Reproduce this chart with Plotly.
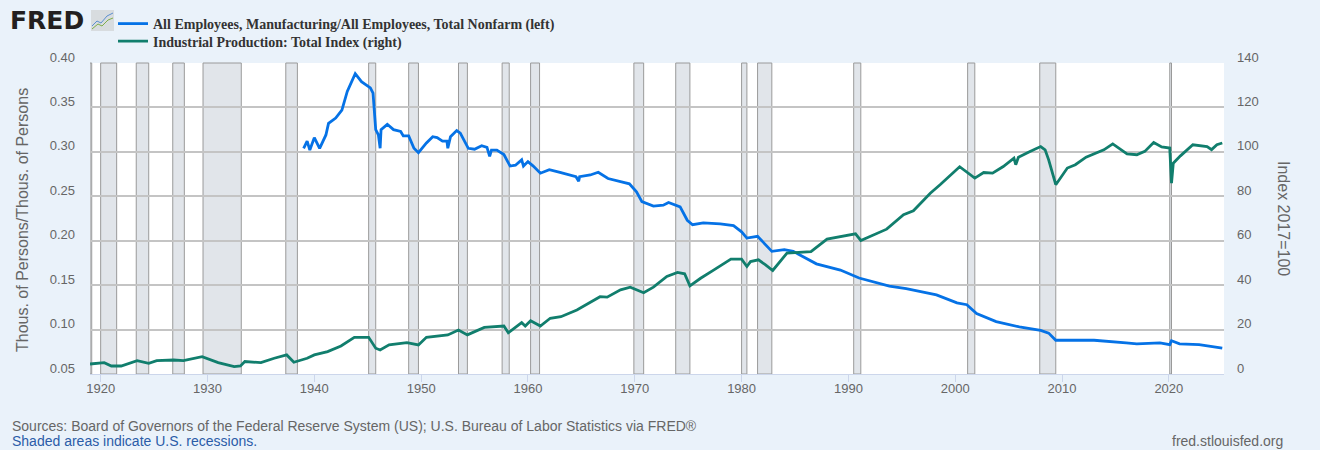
import plotly.graph_objects as go

# manufacturing share of nonfarm employment (left axis)
mfg_dates = [
    "1939-01", "1939-05", "1939-08", "1940-01", "1940-07", "1941-02", "1941-05",
    "1942-01", "1942-08", "1943-02", "1943-11", "1944-06", "1945-04", "1945-07",
    "1945-10", "1946-01", "1946-03", "1946-04", "1946-11", "1947-06", "1948-02",
    "1948-05", "1948-11", "1949-05", "1949-10", "1950-07", "1951-02", "1951-07",
    "1952-01", "1952-06", "1952-07", "1952-10", "1953-05", "1953-09", "1954-06",
    "1955-01", "1955-09", "1956-03", "1956-06", "1956-08", "1957-02", "1957-10",
    "1958-05", "1958-11", "1959-06", "1959-08", "1960-01", "1960-07", "1961-03",
    "1962-01", "1963-01", "1964-07", "1964-10", "1964-11", "1965-11", "1966-08",
    "1967-07", "1969-07", "1970-03", "1970-09", "1971-10", "1972-09", "1973-03",
    "1974-04", "1974-12", "1975-06", "1976-06", "1978-01", "1979-04", "1980-01",
    "1980-07", "1981-07", "1982-11", "1984-01", "1984-11", "1987-01", "1989-04",
    "1991-01", "1993-11", "1995-06", "1998-04", "2000-03", "2001-02", "2002-01",
    "2003-11", "2006-01", "2008-01", "2008-10", "2009-06", "2013-01", "2016-01",
    "2017-01", "2019-03", "2020-02", "2020-04", "2021-01", "2022-11", "2025-01",
]
mfg_share = [
    0.304, 0.312, 0.302, 0.316, 0.304, 0.319, 0.332,
    0.338, 0.347, 0.368, 0.388, 0.379, 0.372, 0.366,
    0.325, 0.319, 0.304, 0.325, 0.331, 0.325, 0.323,
    0.318, 0.318, 0.304, 0.299, 0.310, 0.317, 0.316,
    0.312, 0.312, 0.304, 0.317, 0.324, 0.321, 0.304,
    0.303, 0.307, 0.305, 0.295, 0.302, 0.302, 0.297,
    0.284, 0.285, 0.291, 0.284, 0.289, 0.284, 0.276,
    0.280, 0.277, 0.272, 0.267, 0.272, 0.274, 0.277,
    0.270, 0.264, 0.255, 0.244, 0.239, 0.240, 0.243,
    0.238, 0.223, 0.218, 0.220, 0.219, 0.217, 0.210,
    0.203, 0.205, 0.188, 0.190, 0.188, 0.174, 0.167,
    0.158, 0.149, 0.146, 0.139, 0.130, 0.128, 0.118,
    0.109, 0.103, 0.099, 0.096, 0.088, 0.088, 0.085,
    0.084, 0.085, 0.083, 0.0875, 0.084, 0.083, 0.079,
]

# industrial production index, 2017=100 (right axis)
ip_dates = [
    "1919-01", "1920-05", "1921-01", "1921-12", "1923-06", "1924-07", "1925-04",
    "1926-11", "1927-10", "1929-07", "1931-01", "1932-07", "1933-02", "1933-07",
    "1935-01", "1936-04", "1937-06", "1938-02", "1939-05", "1940-01", "1941-04",
    "1942-07", "1943-10", "1945-02", "1945-10", "1946-03", "1947-01", "1948-09",
    "1949-10", "1950-07", "1952-07", "1953-07", "1954-05", "1955-12", "1957-10",
    "1958-03", "1959-06", "1959-10", "1960-04", "1961-03", "1962-02", "1963-02",
    "1964-08", "1965-12", "1966-10", "1967-06", "1968-09", "1969-08", "1970-11",
    "1971-10", "1973-01", "1974-01", "1974-09", "1975-03", "1976-03", "1977-06",
    "1979-01", "1980-01", "1980-07", "1980-11", "1981-08", "1982-04", "1982-12",
    "1984-04", "1985-03", "1986-07", "1988-01", "1989-04", "1990-09", "1991-03",
    "1992-06", "1993-08", "1995-03", "1996-02", "1997-09", "1998-08", "2000-06",
    "2001-11", "2002-09", "2003-07", "2004-07", "2005-07", "2005-09", "2005-12",
    "2007-01", "2008-01", "2008-06", "2008-10", "2009-06", "2010-07", "2011-04",
    "2012-04", "2013-12", "2014-10", "2016-02", "2017-01", "2017-10", "2018-08",
    "2019-05", "2020-02", "2020-04", "2020-06", "2021-02", "2021-09", "2022-04",
    "2023-08", "2024-01", "2024-07", "2025-01",
]
ip_index = [
    4.5, 5.1, 3.6, 3.6, 6.0, 4.8, 6.0,
    6.3, 6.0, 7.8, 5.1, 3.3, 3.6, 5.6,
    5.1, 7.1, 8.6, 5.3, 7.1, 8.6, 10.1,
    12.6, 16.5, 16.5, 11.6, 10.8, 13.1, 14.1,
    13.1, 16.5, 17.6, 19.8, 17.6, 21.0, 21.6,
    18.6, 23.1, 21.6, 24.0, 21.6, 25.1, 25.8,
    28.8, 32.6, 34.8, 34.6, 37.9, 39.1, 36.6,
    39.1, 43.9, 45.7, 45.1, 39.7, 43.1, 46.9,
    51.7, 51.7, 48.4, 50.6, 51.4, 49.1, 46.6,
    54.4, 54.8, 55.1, 60.7, 61.9, 63.1, 60.1,
    62.6, 65.2, 71.7, 73.5, 81.4, 85.2, 93.3,
    88.2, 90.7, 90.4, 93.4, 97.2, 94.2, 97.6,
    100.2, 102.4, 100.9, 96.4, 85.2, 92.7, 94.2,
    97.6, 100.9, 103.6, 99.1, 98.7, 100.2, 104.2,
    102.2, 101.7, 85.9, 94.9, 98.2, 100.9, 103.2,
    102.4, 101.0, 103.2, 104.0,
]

# NBER recessions
rec_start = ["1918-08-01", "1920-01-01", "1923-05-01", "1926-10-01", "1929-08-01",
             "1937-05-01", "1945-02-01", "1948-11-01", "1953-07-01", "1957-08-01",
             "1960-04-01", "1969-12-01", "1973-11-01", "1980-01-01", "1981-07-01",
             "1990-07-01", "2001-03-01", "2007-12-01", "2020-02-01"]
rec_end = ["1919-03-01", "1921-07-01", "1924-07-01", "1927-11-01", "1933-03-01",
           "1938-06-01", "1945-10-01", "1949-10-01", "1954-05-01", "1958-04-01",
           "1961-02-01", "1970-11-01", "1975-03-01", "1980-07-01", "1982-11-01",
           "1991-03-01", "2001-11-01", "2009-06-01", "2020-04-01"]

x_ticks = [f"{y}-01-01" for y in range(1920, 2030, 10)]
X_START, X_END = "1919-01-01", "2025-03-01"

W, H = 1320, 450
ML, MR, MT, MB = 90, 96, 63, 76
PW, PH = W - ML - MR, H - MT - MB


def px(x):
    return (x - ML) / PW


def py(y):
    return (H - MB - y) / PH


BLUE = "#0572e6"
GREEN = "#117e6d"
GREY_TXT = "#666666"

fig = go.Figure()
fig.add_trace(go.Scatter(
    x=mfg_dates, y=mfg_share, mode="lines", yaxis="y", legend="legend",
    name="All Employees, Manufacturing/All Employees, Total Nonfarm (left)",
    line=dict(color=BLUE, width=2.8)))
fig.add_trace(go.Scatter(
    x=ip_dates, y=ip_index, mode="lines", yaxis="y2", legend="legend2",
    name="Industrial Production: Total Index (right)",
    line=dict(color=GREEN, width=2.8)))

shapes = []
for s, e in zip(rec_start, rec_end):
    shapes.append(dict(type="rect", xref="x", yref="paper",
                       x0=max(s, X_START), x1=e, y0=0, y1=1,
                       fillcolor="#e1e5ea", line=dict(color="#9a9a9a", width=1),
                       layer="below"))

# little chart icon beside the FRED wordmark
shapes.append(dict(type="rect", xref="paper", yref="paper",
                   x0=px(91), x1=px(114), y0=py(31), y1=py(10),
                   fillcolor="#d8dcdf", line=dict(width=0)))
shapes.append(dict(type="path", xref="paper", yref="paper",
                   path="M {} {} L {} {} L {} {} L {} {} L {} {}".format(
                       px(92), py(26), px(97), py(21), px(101), py(23),
                       px(107), py(16), px(113), py(13)),
                   line=dict(color="#5b8fd0", width=1)))
shapes.append(dict(type="path", xref="paper", yref="paper",
                   path="M {} {} L {} {} L {} {} L {} {} L {} {}".format(
                       px(92), py(29), px(98), py(24), px(102), py(26),
                       px(108), py(20), px(113), py(18)),
                   line=dict(color="#7fae4a", width=1)))


def note(text, x, y, xanchor="left", size=14, color=GREY_TXT, angle=0,
         family="Liberation Sans"):
    return dict(text=text, x=px(x), y=py(y), xref="paper", yref="paper",
                xanchor=xanchor, yanchor="middle", showarrow=False,
                textangle=angle, font=dict(family=family, size=size, color=color))


annotations = [
    note("<b>FRED</b>", 8, 20, size=25, color="#231f20", family="DejaVu Sans"),
    note("Thous. of Persons/Thous. of Persons", 22, 220, xanchor="center",
         size=16, angle=-90),
    note("Index 2017=100", 1284, 218, xanchor="center", size=16, angle=90),
    note("Sources: Board of Governors of the Federal Reserve System (US); "
         "U.S. Bureau of Labor Statistics via FRED®", 10, 426),
    note("Shaded areas indicate U.S. recessions.", 10, 441, color="#2b5ca8"),
    note("fred.stlouisfed.org", 1285, 441, xanchor="right"),
]

tick_font = dict(family="Liberation Sans", size=13, color=GREY_TXT)
legend_style = dict(xanchor="left", yanchor="top", bgcolor="rgba(0,0,0,0)",
                    itemwidth=30,
                    font=dict(family="Liberation Serif", size=14, color="#333333",
                              weight="bold"))

fig.update_layout(
    width=W, height=H, autosize=False,
    margin=dict(l=ML, r=MR, t=MT, b=MB, autoexpand=False),
    paper_bgcolor="#eaf2fa", plot_bgcolor="#ffffff",
    showlegend=True,
    legend=dict(x=px(113), y=py(8), **legend_style),
    legend2=dict(x=px(113), y=py(25.5), **legend_style),
    xaxis=dict(type="date", range=[X_START, X_END], tickvals=x_ticks,
               tickformat="%Y", showgrid=False, zeroline=False,
               showline=True, linecolor="#ccd6eb", linewidth=1,
               ticks="outside", ticklen=7, tickcolor="#ccd6eb",
               ticklabelstandoff=-5, tickfont=tick_font),
    yaxis=dict(range=[0.05, 0.40], dtick=0.05, tick0=0.05, tickformat=".2f",
               showgrid=True, gridcolor="#c4c4c4", gridwidth=1.5,
               zeroline=False, showline=False, ticks="",
               ticklabelstandoff=14, ticklabelshift=-6, tickfont=tick_font),
    yaxis2=dict(range=[0, 140], dtick=20, overlaying="y", side="right",
                showgrid=False, zeroline=False, showline=False, ticks="",
                ticklabelstandoff=12, ticklabelshift=-6, tickfont=tick_font),
    shapes=shapes, annotations=annotations,
)

fig.write_html("out.html", config={"displayModeBar": False},
               post_script="document.body.style.margin='0';")
